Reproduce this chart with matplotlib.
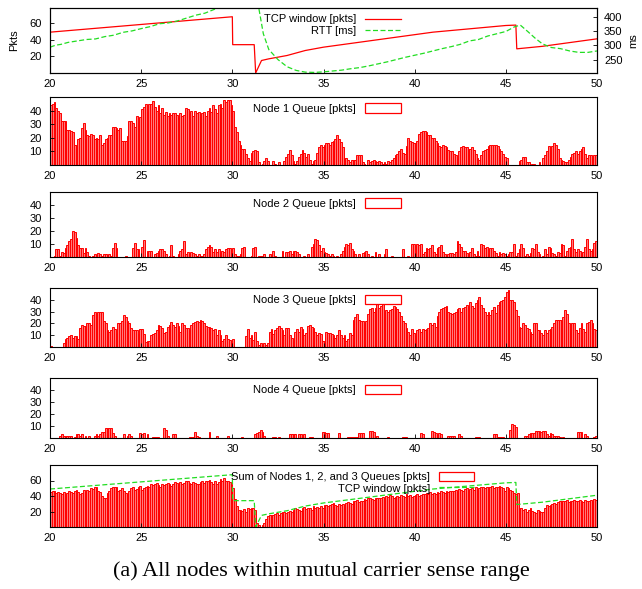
import numpy as np
from matplotlib import pyplot as plt
from matplotlib.patches import Rectangle

# time slots (0.1 s)
t = np.round(np.arange(20.0, 50.0, 0.1), 1)

node1 = [
    44, 45, 46, 42, 40, 38, 32, 32, 32, 26,
    26, 25, 24, 15, 15, 19, 20, 27, 31, 26,
    22, 21, 23, 22, 19, 20, 19, 22, 15, 16,
    19, 20, 22, 22, 28, 28, 27, 26, 27, 18,
    18, 18, 21, 32, 32, 31, 28, 36, 32, 35,
    41, 43, 45, 40, 45, 45, 47, 43, 40, 44,
    38, 42, 37, 39, 36, 38, 37, 38, 38, 37,
    35, 38, 36, 37, 42, 41, 38, 40, 36, 40,
    38, 39, 36, 38, 39, 36, 40, 42, 39, 44,
    41, 38, 44, 45, 42, 48, 46, 48, 48, 44,
    40, 28, 24, 18, 15, 12, 12, 8, 5, 3,
    9, 10, 11, 10, 2, 0, 1, 3, 5, 3,
    0, 0, 3, 1, 0, 2, 0, 0, 3, 6,
    8, 11, 7, 3, 1, 3, 6, 8, 11, 9,
    6, 8, 4, 1, 3, 4, 9, 13, 15, 13,
    15, 16, 16, 15, 17, 18, 19, 22, 19, 17,
    13, 5, 5, 4, 2, 4, 4, 4, 7, 7,
    7, 2, 1, 0, 4, 2, 3, 4, 3, 2,
    3, 2, 1, 2, 1, 3, 2, 4, 5, 7,
    8, 10, 12, 9, 8, 14, 20, 18, 17, 16,
    16, 18, 23, 24, 25, 25, 24, 22, 22, 20,
    20, 18, 16, 14, 13, 15, 14, 13, 11, 10,
    10, 8, 7, 5, 10, 13, 14, 13, 13, 12,
    12, 13, 11, 8, 5, 4, 7, 10, 11, 12,
    14, 15, 15, 15, 15, 14, 12, 10, 8, 6,
    5, 0, 0, 0, 0, 0, 0, 3, 4, 6,
    6, 2, 2, 0, 1, 1, 0, 0, 2, 0,
    5, 7, 10, 14, 12, 14, 16, 15, 12, 5,
    4, 3, 2, 2, 4, 6, 8, 9, 10, 8,
    10, 12, 13, 8, 5, 7, 7, 6, 7, 7,
]

node2 = [
    0, 0, 1, 6, 6, 1, 4, 3, 7, 9,
    12, 14, 20, 19, 15, 9, 7, 7, 3, 7,
    4, 1, 0, 1, 2, 1, 3, 2, 1, 2,
    2, 1, 2, 1, 7, 11, 7, 0, 0, 0,
    0, 1, 0, 0, 0, 7, 11, 6, 6, 0,
    8, 13, 0, 5, 5, 5, 0, 2, 3, 5,
    6, 6, 5, 2, 0, 1, 9, 1, 0, 0,
    2, 5, 6, 12, 2, 4, 3, 4, 3, 2,
    1, 2, 1, 1, 2, 6, 8, 9, 8, 4,
    6, 4, 6, 3, 5, 4, 6, 7, 7, 6,
    7, 2, 1, 1, 2, 7, 8, 0, 0, 0,
    1, 7, 8, 0, 1, 1, 1, 2, 0, 0,
    2, 0, 5, 1, 0, 0, 0, 5, 0, 4,
    4, 5, 2, 5, 5, 4, 2, 0, 0, 1,
    0, 2, 0, 8, 10, 14, 13, 9, 5, 7,
    4, 3, 2, 1, 2, 1, 0, 1, 0, 2,
    5, 8, 10, 9, 11, 6, 5, 2, 0, 2,
    0, 3, 4, 5, 2, 0, 1, 0, 4, 0,
    2, 0, 0, 2, 6, 0, 0, 1, 0, 0,
    0, 0, 0, 6, 0, 0, 1, 0, 10, 10,
    0, 10, 9, 10, 2, 4, 7, 6, 7, 9,
    4, 2, 7, 8, 9, 4, 2, 1, 2, 3,
    3, 2, 4, 12, 10, 8, 5, 5, 3, 2,
    4, 7, 2, 1, 5, 1, 10, 9, 7, 8,
    3, 7, 7, 5, 3, 1, 4, 2, 3, 2,
    1, 2, 4, 4, 10, 1, 3, 6, 10, 7,
    1, 2, 1, 3, 7, 6, 10, 4, 2, 0,
    1, 6, 2, 8, 7, 3, 2, 1, 4, 3,
    10, 9, 1, 5, 7, 8, 14, 6, 4, 6,
    5, 3, 4, 8, 14, 6, 5, 6, 11, 12,
]

node3 = [
    1, 0, 0, 0, 0, 0, 0, 3, 7, 8,
    9, 10, 8, 9, 9, 7, 16, 19, 18, 18,
    20, 20, 19, 27, 30, 28, 30, 30, 30, 22,
    20, 14, 13, 14, 17, 15, 12, 20, 20, 22,
    27, 25, 22, 20, 16, 14, 14, 14, 12, 15,
    15, 11, 4, 5, 5, 10, 11, 12, 14, 19,
    18, 16, 12, 13, 17, 19, 21, 19, 17, 20,
    18, 13, 20, 19, 16, 16, 14, 19, 20, 21,
    22, 21, 23, 22, 20, 18, 17, 17, 16, 14,
    15, 10, 14, 10, 5, 7, 10, 7, 6, 3,
    7, 0, 0, 0, 0, 0, 0, 9, 15, 8,
    10, 6, 13, 5, 2, 3, 2, 3, 2, 3,
    13, 15, 11, 14, 16, 18, 16, 14, 10, 16,
    16, 10, 8, 6, 13, 15, 13, 17, 15, 10,
    12, 18, 19, 17, 16, 13, 10, 12, 11, 5,
    5, 13, 12, 12, 11, 10, 8, 10, 14, 10,
    8, 10, 5, 7, 12, 10, 23, 25, 28, 23,
    22, 22, 20, 22, 28, 32, 33, 30, 33, 37,
    33, 35, 37, 30, 31, 30, 31, 32, 35, 34,
    32, 30, 26, 22, 20, 16, 13, 10, 15, 12,
    10, 14, 15, 13, 15, 14, 15, 16, 20, 19,
    20, 17, 26, 30, 32, 33, 34, 35, 30, 29,
    28, 29, 30, 32, 33, 30, 33, 34, 36, 35,
    38, 35, 33, 37, 40, 42, 36, 33, 30, 27,
    30, 27, 31, 34, 29, 36, 38, 39, 40, 42,
    47, 48, 40, 40, 38, 31, 26, 17, 16, 20,
    19, 16, 15, 13, 11, 20, 20, 14, 14, 12,
    10, 14, 12, 14, 15, 17, 20, 23, 23, 23,
    23, 25, 31, 28, 20, 16, 20, 20, 14, 12,
    16, 20, 15, 13, 20, 21, 23, 20, 15, 14,
]

node4 = [
    0, 0, 0, 0, 0, 2, 3, 2, 2, 2,
    2, 2, 0, 1, 3, 3, 2, 3, 0, 2,
    0, 2, 0, 0, 2, 3, 2, 3, 5, 5,
    8, 8, 8, 8, 4, 2, 0, 0, 0, 0,
    3, 0, 2, 3, 2, 0, 0, 0, 0, 4,
    3, 4, 0, 3, 0, 0, 1, 1, 1, 1,
    0, 0, 8, 7, 2, 0, 0, 3, 3, 0,
    0, 0, 0, 0, 0, 0, 1, 1, 1, 5,
    2, 1, 0, 0, 0, 0, 0, 5, 0, 0,
    0, 2, 0, 0, 0, 0, 0, 2, 0, 0,
    0, 0, 0, 0, 0, 1, 0, 0, 0, 0,
    0, 0, 3, 4, 5, 7, 5, 2, 0, 0,
    0, 0, 1, 1, 0, 1, 0, 0, 0, 0,
    0, 3, 3, 3, 3, 0, 3, 3, 2, 3,
    0, 0, 1, 1, 0, 0, 0, 0, 0, 5,
    5, 4, 4, 0, 0, 0, 0, 0, 4, 0,
    0, 0, 0, 1, 1, 1, 1, 1, 1, 4,
    4, 4, 0, 0, 0, 6, 6, 5, 0, 2,
    0, 0, 0, 0, 0, 1, 0, 0, 0, 0,
    0, 0, 0, 1, 1, 1, 0, 0, 0, 0,
    0, 0, 0, 4, 3, 0, 0, 0, 0, 6,
    5, 4, 3, 4, 3, 0, 0, 0, 2, 2,
    2, 2, 0, 0, 3, 2, 0, 0, 0, 0,
    0, 0, 0, 1, 1, 1, 0, 0, 0, 0,
    0, 0, 0, 3, 3, 1, 1, 1, 1, 0,
    0, 0, 7, 12, 11, 9, 0, 0, 0, 0,
    2, 2, 3, 4, 4, 4, 6, 6, 6, 5,
    6, 6, 3, 2, 4, 3, 2, 2, 2, 1,
    0, 1, 0, 0, 0, 0, 0, 0, 0, 5,
    5, 5, 0, 3, 2, 0, 0, 0, 1, 2,
]

queue_sum = [
    45, 46, 47, 44, 45, 44, 43, 45, 42, 44,
    47, 45, 44, 47, 48, 45, 43, 44, 48, 47,
    48, 46, 50, 49, 51, 52, 47, 45, 40, 38,
    37, 44, 46, 50, 52, 52, 51, 46, 48, 50,
    47, 44, 42, 46, 50, 52, 48, 49, 51, 53,
    48, 50, 52, 53, 51, 55, 54, 56, 57, 54,
    52, 55, 54, 56, 57, 55, 53, 56, 58, 57,
    55, 58, 56, 57, 60, 59, 57, 55, 58, 57,
    56, 55, 58, 59, 57, 60, 59, 61, 58, 55,
    60, 56, 58, 62, 59, 63, 60, 59, 58, 56,
    50, 36, 27, 22, 22, 21, 23, 20, 24, 23,
    24, 25, 22, 5, 2, 0, 3, 5, 10, 14,
    15, 15, 16, 17, 18, 16, 18, 19, 20, 18,
    20, 21, 19, 22, 24, 23, 22, 21, 25, 26,
    23, 24, 25, 22, 27, 24, 26, 25, 27, 25,
    28, 29, 27, 28, 30, 31, 28, 27, 30, 29,
    30, 29, 31, 32, 31, 30, 33, 34, 35, 32,
    33, 34, 36, 35, 37, 38, 36, 35, 37, 38,
    37, 38, 39, 38, 40, 39, 41, 40, 38, 39,
    40, 39, 41, 40, 39, 42, 40, 41, 39, 40,
    41, 42, 40, 41, 43, 42, 44, 43, 45, 42,
    44, 43, 45, 44, 46, 45, 44, 47, 45, 46,
    47, 46, 48, 47, 49, 48, 47, 49, 50, 48,
    49, 50, 48, 51, 49, 50, 52, 51, 50, 52,
    51, 52, 53, 50, 52, 51, 53, 52, 50, 46,
    52, 50, 48, 46, 44, 42, 44, 25, 24, 22,
    23, 20, 22, 24, 21, 20, 18, 22, 21, 20,
    20, 25, 28, 27, 29, 30, 31, 30, 32, 33,
    33, 34, 33, 35, 32, 34, 33, 35, 34, 33,
    35, 34, 32, 35, 34, 33, 35, 34, 36, 35,
]

# TCP congestion window [pkts]
cwnd_t = [20.0, 30.0, 30.02, 31.2, 31.28, 31.45, 31.6, 32.0, 33.0, 34.0, 35.0,
          36.0, 37.0, 38.0, 39.0, 40.0, 41.0, 42.0, 43.0, 44.0, 45.0, 45.55,
          45.6, 47.0, 48.0, 49.0, 50.0]
cwnd = [49, 67.5, 34, 34, 0, 8, 15, 17, 21, 27, 31,
        34, 37, 40, 43, 46, 49, 51, 53, 55, 57, 57.5,
        29, 32, 35, 38, 41]

# RTT [ms]
rtt_t = [20.0, 20.3, 20.6, 21.0, 21.5, 22.0, 22.5, 23.0, 23.5, 24.0, 24.5,
         25.0, 25.5, 26.0, 26.5, 27.0, 27.5, 28.0, 28.5, 29.0, 29.3, 30.0,
         31.0, 31.45, 31.7, 32.0, 32.5, 33.0, 33.5, 34.0, 34.5, 35.0, 35.5,
         36.0, 36.5, 37.0, 37.5, 38.0, 38.5, 39.0, 39.5, 40.0, 40.5, 41.0,
         41.5, 42.0, 42.5, 43.0, 43.5, 44.0, 44.5, 45.0, 45.5, 45.8, 46.2,
         46.6, 47.0, 47.5, 48.0, 48.5, 49.0, 49.5, 50.0]
rtt = [293, 300, 303, 310, 315, 320, 322, 330, 335, 345, 350,
       358, 365, 375, 378, 385, 395, 405, 412, 425, 432, 445,
       450, 430, 340, 285, 250, 225, 212, 206, 205, 207, 210,
       213, 218, 222, 228, 235, 242, 250, 258, 265, 272, 280,
       288, 295, 303, 315, 320, 332, 340, 348, 365, 370, 348,
       325, 305, 292, 288, 280, 275, 275, 280]

plt.rcParams['font.family'] = ['Liberation Sans', 'DejaVu Sans']
plt.rcParams['font.size'] = 8

RED = '#ff0000'
GREEN = '#22dd22'

fig = plt.figure(figsize=(6.42, 5.89), dpi=100)
W, H = 642.0, 589.0


def make_ax(top, bottom):
    ax = fig.add_axes([50 / W, 1 - bottom / H, 547 / W, (bottom - top) / H])
    ax.set_xlim(20, 50)
    ax.set_xticks([20, 25, 30, 35, 40, 45, 50])
    ax.tick_params(direction='in', length=3, width=0.6, labelsize=8)
    ax.tick_params(axis='x', pad=4)
    ax.tick_params(axis='y', pad=6)
    ax.set_axisbelow(False)
    for s in ax.spines.values():
        s.set_linewidth(0.8)
    return ax


def bars(ax, vals):
    ax.bar(t, vals, width=0.1, align='edge', color='#ff7a7a',
           edgecolor=RED, linewidth=0.7)


# panel 1: TCP window and RTT
ax1 = make_ax(8, 73)
l1, = ax1.plot(cwnd_t, cwnd, color=RED, lw=0.9)
ax1.set_ylim(0, 78)
ax1.set_yticks([20, 40, 60])
ax1.set_ylabel('Pkts', labelpad=7)
ax1r = ax1.twinx()
l2, = ax1r.plot(rtt_t, rtt, color=GREEN, lw=0.9, dashes=(4, 2))
ax1r.set_ylim(203, 430)
ax1r.set_yticks([250, 300, 350, 400])
ax1r.tick_params(direction='in', length=3, width=0.6, labelsize=8, pad=5)
ax1r.set_ylabel('ms', labelpad=4)
ax1.legend([l1, l2], ['TCP window [pkts]', 'RTT [ms]'], loc='upper right',
           bbox_to_anchor=(0.655, 1.02), frameon=False, markerfirst=False,
           handlelength=3.2, labelspacing=0.15, borderaxespad=0.3)

# panels 2-5: node queues
queues = [node1, node2, node3, node4]
frames = [(97, 165), (192, 257), (288, 347), (378, 438)]
for k, (vals, (top, bottom)) in enumerate(zip(queues, frames)):
    ax = make_ax(top, bottom)
    bars(ax, vals)
    ax.set_ylim(0, 50)
    ax.set_yticks([10, 20, 30, 40])
    h = Rectangle((0, 0), 1, 1, facecolor='white', edgecolor=RED, lw=0.9)
    ax.legend([h], ['Node %d Queue [pkts]' % (k + 1)], loc='upper right',
              bbox_to_anchor=(0.655, 1.02), frameon=False, markerfirst=False,
              handlelength=3.2, handleheight=0.9, borderaxespad=0.3)

# panel 6: sum of queues with TCP window
ax6 = make_ax(465, 527)
bars(ax6, queue_sum)
l6, = ax6.plot(cwnd_t, cwnd, color=GREEN, lw=0.9, dashes=(4, 2))
ax6.set_ylim(0, 80)
ax6.set_yticks([20, 40, 60])
h6 = Rectangle((0, 0), 1, 1, facecolor='white', edgecolor=RED, lw=0.9)
ax6.legend([h6, l6], ['Sum of Nodes 1, 2, and 3 Queues [pkts]', 'TCP window [pkts]'],
           loc='upper right', bbox_to_anchor=(0.79, 1.02), frameon=False,
           markerfirst=False, handlelength=3.2, handleheight=0.9,
           labelspacing=0.1, borderaxespad=0.3)

fig.text(0.5, 1 - 571 / H, '(a) All nodes within mutual carrier sense range',
         ha='center', va='center', fontsize=16, family='Liberation Serif')

fig.savefig('out.png', dpi=100)
